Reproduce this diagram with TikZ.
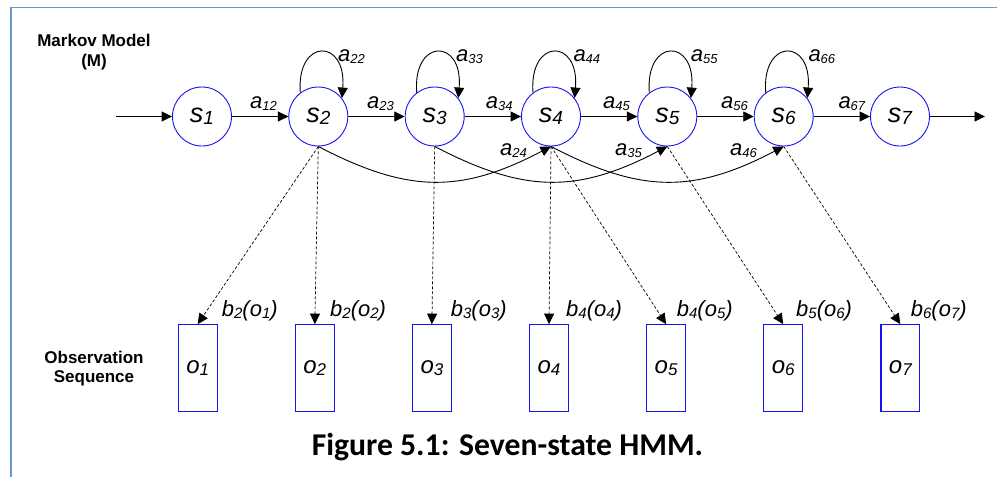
\documentclass[tikz,border=0pt]{standalone}
\usepackage{fontspec}
\setmainfont{Liberation Sans}[ItalicFont={Liberation Sans Italic},BoldFont={Liberation Sans Bold}]
\newfontfamily\capfont{Carlito}
\usetikzlibrary{arrows.meta,calc}
\definecolor{stateblue}{RGB}{20,20,240}
\definecolor{framecol}{RGB}{105,150,205}
% lowered, smaller index text
\newcommand\sbs[2]{\raisebox{-2pt}{\fontsize{#1}{#1}\selectfont #2}}

\begin{document}
\begin{tikzpicture}[x=1pt,y=-1pt,
  state/.style={circle,draw=stateblue,line width=0.9pt,minimum size=59pt,inner sep=0pt,
                font=\itshape\fontsize{27}{27}\selectfont},
  obs/.style={rectangle,draw=stateblue,line width=1.2pt,minimum width=38.8pt,
              minimum height=86.5pt,inner sep=0pt,font=\itshape\fontsize{24}{24}\selectfont},
  trans/.style={-{Triangle[length=10.5pt,width=10pt]},line width=0.9pt},
  emit/.style={-{Triangle[length=10.5pt,width=10pt]},line width=0.7pt,dash pattern=on 3pt off 2pt},
  plab/.style={anchor=base west,inner sep=0pt,font=\itshape\fontsize{22}{22}\selectfont},
  side/.style={anchor=base,inner sep=0pt,font=\bfseries\fontsize{17}{17}\selectfont},
]
\useasboundingbox (0,0) rectangle (997,477);

% page frame
\draw[framecol,line width=1.6pt] (10.7,477) -- (10.7,7.3) -- (997,7.3);

% side captions
\node[side] (mm1) at (94,46) {Markov Model};
\node[side] (mm2) at (94,66.7) {(M)};
\node[side] (ob1) at (94,363.3) {Observation};
\node[side] (ob2) at (94,382.3) {Sequence};

% hidden states
\foreach \i/\x in {1/202,2/318.3,3/434.7,4/551,5/667.3,6/783.7,7/900}
  \node[state] (s\i) at (\x,116.5) {s\sbs{19}{\i}};

% observations
\foreach \i/\x in {1/197.7,2/314.8,3/431.9,4/549,5/666.1,6/783.2,7/900.3}
  \node[obs] (o\i) at (\x,368) {o\sbs{17}{\i}};

% entry and exit
\coordinate (enter) at (116,116.5);
\coordinate (leave) at (985,116.5);
\draw[trans] (enter) -- (s1);
\draw[trans] (s7) -- (leave);

% forward transitions
\foreach \i/\j in {1/2,2/3,3/4,4/5,5/6,6/7}
  \draw[trans] (s\i) -- (s\j);

% self loops
\foreach \i in {2,...,6}
  \draw[trans] (s\i.127) .. controls +(-4,-55) and +(5,-60) .. (s\i.38);

% skip transitions
\foreach \i/\j in {2/4,3/5,4/6}
  \draw[trans] (s\i.south) .. controls +(90,47) and +(-90,47) .. (s\j.south);

% emissions
\foreach \i/\j in {2/1,2/2,3/3,4/4,4/5,5/6,6/7}
  \draw[emit] (s\i.south) -- (o\j.north);

% transition probabilities
\node[plab] (l12) at (250,108.5) {a\sbs{13}{12}};
\node[plab] (l23) at (367,108.5) {a\sbs{13}{23}};
\node[plab] (l34) at (485.7,108.5) {a\sbs{13}{34}};
\node[plab] (l45) at (603,108.5) {a\sbs{13}{45}};
\node[plab] (l56) at (721,108.5) {a\sbs{13}{56}};
\node[plab] (l67) at (838.3,108.5) {a\sbs{13}{67}};
\node[plab] (l22) at (338,61) {a\sbs{13}{22}};
\node[plab] (l33) at (456,61) {a\sbs{13}{33}};
\node[plab] (l44) at (573.3,61) {a\sbs{13}{44}};
\node[plab] (l55) at (690.7,61) {a\sbs{13}{55}};
\node[plab] (l66) at (808.3,61) {a\sbs{13}{66}};
\node[plab] (l24) at (500,155.5) {a\sbs{13}{24}};
\node[plab] (l35) at (615,155.5) {a\sbs{13}{35}};
\node[plab] (l46) at (730,155.5) {a\sbs{13}{46}};

% emission probabilities
\node[plab] (b21) at (221.7,316) {b\sbs{15}{2}(o\sbs{15}{1})};
\node[plab] (b22) at (330,316) {b\sbs{15}{2}(o\sbs{15}{2})};
\node[plab] (b33) at (450.7,316) {b\sbs{15}{3}(o\sbs{15}{3})};
\node[plab] (b44) at (566,316) {b\sbs{15}{4}(o\sbs{15}{4})};
\node[plab] (b45) at (676.7,316) {b\sbs{15}{4}(o\sbs{15}{5})};
\node[plab] (b56) at (796,316) {b\sbs{15}{5}(o\sbs{15}{6})};
\node[plab] (b67) at (910.7,316) {b\sbs{15}{6}(o\sbs{15}{7})};

% figure caption
\node[anchor=base,inner sep=0pt,font=\capfont\bfseries\fontsize{31.7}{32}\selectfont] (cap)
  at (507.5,455) {Figure 5.1: Seven-state HMM.};
\end{tikzpicture}
\end{document}
